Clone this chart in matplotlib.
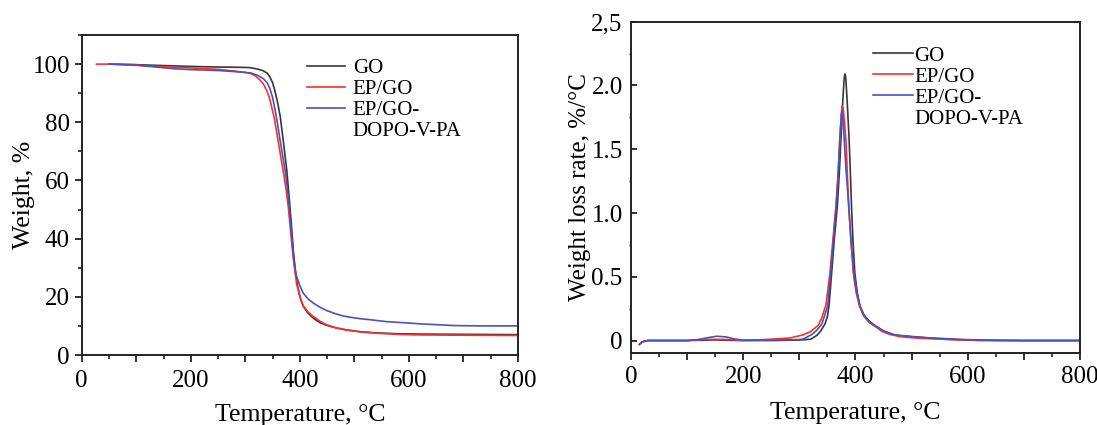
import matplotlib
matplotlib.use("Agg")
import matplotlib.pyplot as plt
from matplotlib.lines import Line2D
from matplotlib.ticker import MultipleLocator, FixedLocator, FuncFormatter

plt.rcParams['font.family'] = ['Liberation Serif', 'DejaVu Serif']

# ---------------- TGA data (weight, %) ----------------
tga_go_T = [50, 100, 150, 200, 250, 290, 308, 320, 333, 340, 345, 350, 354, 359, 364, 370, 376, 380,
            384, 388, 392, 396, 401, 406, 414, 425, 437, 449, 465, 480, 495, 510, 540, 580, 620, 700, 800]
tga_go_W = [100, 99.8, 99.5, 99.2, 99.0, 98.9, 98.8, 98.4, 97.7, 96.9, 95.6, 93.6, 91.0, 87.0, 82.0, 73.0,
            63.5, 55.0, 46.0, 36.0, 28.5, 23.5, 19.5, 16.8, 14.6, 12.6, 11.1, 10.2, 9.4, 8.8, 8.4, 8.0, 7.6,
            7.3, 7.2, 7.1, 7.0]

tga_ep_T = [27, 60, 100, 115, 150, 200, 250, 280, 300, 309, 318, 327, 333, 339, 344, 348, 353, 357.5, 362,
            367, 371, 375, 379, 383, 388, 394, 400, 406, 415, 425, 437, 449, 465, 480, 495, 510, 540, 580,
            620, 700, 800]
tga_ep_W = [100, 100, 99.8, 99.4, 99.1, 98.7, 98.2, 97.6, 97.1, 96.8, 96.0, 94.5, 93.2, 91.0, 88.5, 85.5,
            81.5, 76.5, 71.5, 65.8, 61.5, 56.5, 50.5, 42.5, 33.0, 24.5, 20.0, 17.0, 14.8, 13.2, 11.6, 10.4,
            9.4, 8.8, 8.3, 8.0, 7.5, 7.1, 6.9, 6.8, 6.7]

tga_dv_T = [50, 100, 130, 170, 200, 250, 290, 309, 322, 333, 340, 345, 350, 354.4, 359, 363.6, 368, 372.8,
            376, 379, 382, 385, 388, 391, 394, 400, 406, 415, 425, 437, 449, 465, 480, 495, 510, 535, 557,
            590, 622, 686, 740, 800]
tga_dv_W = [100, 99.6, 99.1, 98.4, 98.1, 97.8, 97.3, 97.0, 96.2, 95.0, 93.6, 91.6, 88.5, 84.5, 79.5, 74.0,
            69.0, 63.6, 59.0, 54.0, 47.5, 40.5, 34.5, 30.0, 27.0, 23.8, 21.3, 19.3, 17.8, 16.4, 15.3, 14.2,
            13.4, 12.9, 12.5, 12.0, 11.5, 11.1, 10.7, 10.1, 10.0, 10.0]

# ---------------- DTG data (weight loss rate, %/°C) ----------------
dtg_go_T = [15, 20, 30, 100, 150, 200, 250, 300, 320, 331, 338, 345.6, 350, 353, 357.5, 362, 367.6, 371,
            374, 377, 379, 380, 381, 382, 383, 385.5, 388.7, 391, 392.9, 395.5, 398.8, 403, 408, 415, 425,
            437, 450, 467, 480, 500, 530, 560, 600, 700, 800]
dtg_go_V = [-0.03, -0.01, 0.0, 0.0, 0.005, 0.0, 0.0, 0.004, 0.01, 0.04, 0.075, 0.13, 0.19, 0.28, 0.53,
            0.78, 1.05, 1.3, 1.57, 1.85, 2.0, 2.06, 2.09, 2.08, 2.04, 1.85, 1.57, 1.3, 1.05, 0.78, 0.53,
            0.38, 0.27, 0.2, 0.15, 0.11, 0.075, 0.047, 0.038, 0.03, 0.02, 0.01, 0.003, 0.0, 0.0]

dtg_ep_T = [15, 20, 30, 100, 130, 150, 175, 200, 248, 283, 307, 320, 333.7, 340, 347.4, 354.5, 360, 365,
            369, 372, 374.5, 375.5, 376.5, 377.5, 378.5, 380.5, 383, 385.5, 388, 392, 396, 401, 407, 415,
            425, 435, 448, 462, 480, 500, 530, 560, 600, 620, 700, 800]
dtg_ep_V = [-0.03, -0.01, 0.0, 0.0, 0.008, 0.01, 0.008, 0.0, 0.01, 0.02, 0.045, 0.07, 0.12, 0.18, 0.28,
            0.53, 0.8, 1.05, 1.3, 1.57, 1.75, 1.81, 1.84, 1.83, 1.8, 1.7, 1.57, 1.3, 1.05, 0.78, 0.53, 0.38,
            0.27, 0.19, 0.14, 0.11, 0.07, 0.047, 0.03, 0.022, 0.015, 0.01, 0.004, 0.0, 0.0, 0.0]

dtg_dv_T = [15, 20, 30, 100, 120, 140, 153, 170, 185, 200, 250, 300, 307, 322, 331, 340, 350.4, 355.8,
            360.5, 365.7, 369, 372, 374, 375, 376, 377.5, 380, 383, 388, 392, 397, 402, 408, 416, 426, 437.7,
            450, 467, 480, 500, 530, 560, 600, 650, 700, 800]
dtg_dv_V = [-0.03, -0.01, 0.0, 0.0, 0.008, 0.025, 0.034, 0.028, 0.012, 0.003, 0.003, 0.008, 0.012, 0.047,
            0.08, 0.13, 0.27, 0.53, 0.78, 1.05, 1.3, 1.57, 1.72, 1.78, 1.80, 1.75, 1.57, 1.35, 1.05, 0.78,
            0.53, 0.38, 0.27, 0.19, 0.14, 0.11, 0.075, 0.047, 0.04, 0.032, 0.022, 0.015, 0.007, 0.002, 0.0,
            0.0]

labels = ["GO", "EP/GO", "EP/GO-"]
label_cont = "DOPO-V-PA"
colors = ["#383838", "#ff2e2e", "#4a52bc"]

left_yticks = [0, 20, 40, 60, 80, 100]
right_yticks = [0, 0.5, 1.0, 1.5, 2.0, 2.5]
right_ytick_labels = ["0", "0.5", "1.0", "1.5", "2.0", "2,5"]

fig = plt.figure(figsize=(10.97, 4.25), dpi=100)
ax1 = fig.add_axes([0.0745, 0.1647, 0.3977, 0.7529])
ax2 = fig.add_axes([0.5752, 0.1687, 0.4093, 0.7802])

lw = 1.2
for T, W, c, lab in zip([tga_go_T, tga_ep_T, tga_dv_T], [tga_go_W, tga_ep_W, tga_dv_W], colors, labels):
    ax1.plot(T, W, color=c, lw=lw, label=lab)
for T, V, c, lab in zip([dtg_go_T, dtg_ep_T, dtg_dv_T], [dtg_go_V, dtg_ep_V, dtg_dv_V], colors, labels):
    ax2.plot(T, V, color=c, lw=lw, label=lab)


def fmt_x(v, pos):
    return f"{int(round(v))}" if int(round(v)) % 200 == 0 else ""


for ax in (ax1, ax2):
    ax.set_xlim(0, 800)
    ax.xaxis.set_major_locator(MultipleLocator(100))
    ax.xaxis.set_minor_locator(MultipleLocator(50))
    ax.xaxis.set_major_formatter(FuncFormatter(fmt_x))
    for s in ax.spines.values():
        s.set_linewidth(1.4)
        s.set_color("#222222")
    ax.tick_params(axis='x', which='minor', direction='out', length=3, width=1.2, color="#222222")

ax1.tick_params(axis='x', which='major', direction='out', length=5, width=1.3, labelsize=18, pad=6,
                color="#222222")
ax2.tick_params(axis='x', which='major', direction='out', length=5, width=1.3, labelsize=18, pad=4,
                color="#222222")
ax1.set_xlabel("Temperature, °C", fontsize=18.5, labelpad=8.5)
ax2.set_xlabel("Temperature, °C", fontsize=18.5, labelpad=10.5)

ax1.set_ylim(0, 110)
ax1.yaxis.set_major_locator(FixedLocator(left_yticks))
ax1.yaxis.set_minor_locator(MultipleLocator(10))
ax1.tick_params(axis='y', which='major', direction='out', length=5, width=1.3, labelsize=18, pad=3.5,
                color="#222222")
ax1.tick_params(axis='y', which='minor', direction='out', length=3, width=1.2, color="#222222")
ax1.set_ylabel("Weight, %", fontsize=18.5, labelpad=-1.5)

ax2.set_ylim(-0.1, 2.5)
ax2.yaxis.set_major_locator(FixedLocator(right_yticks))
ax2.set_yticklabels(right_ytick_labels)
ax2.yaxis.set_minor_locator(MultipleLocator(0.25))
ax2.tick_params(axis='y', which='major', direction='in', length=4, width=1.3, labelsize=18, pad=6,
                color="#222222")
ax2.tick_params(axis='y', which='minor', direction='out', length=1.5, width=1.0, color="#222222")
ax2.set_ylabel("Weight loss rate, %/°C", fontsize=18, labelpad=0)

leg_kw = dict(frameon=False, fontsize=15, loc='upper left', borderpad=0, borderaxespad=0,
              labelspacing=0.07, handleheight=0.7)
for ax, anchor, hl, htp in ((ax1, (0.517, 0.926), 1.81, 0.37), (ax2, (0.5397, 0.927), 1.9, 0.05)):
    handles, labs = ax.get_legend_handles_labels()
    handles.append(Line2D([], [], linestyle='none'))
    labs.append(label_cont)
    ax.legend(handles, labs, bbox_to_anchor=anchor, handlelength=hl, handletextpad=htp, **leg_kw)

fig.savefig("out.png", dpi=100)
